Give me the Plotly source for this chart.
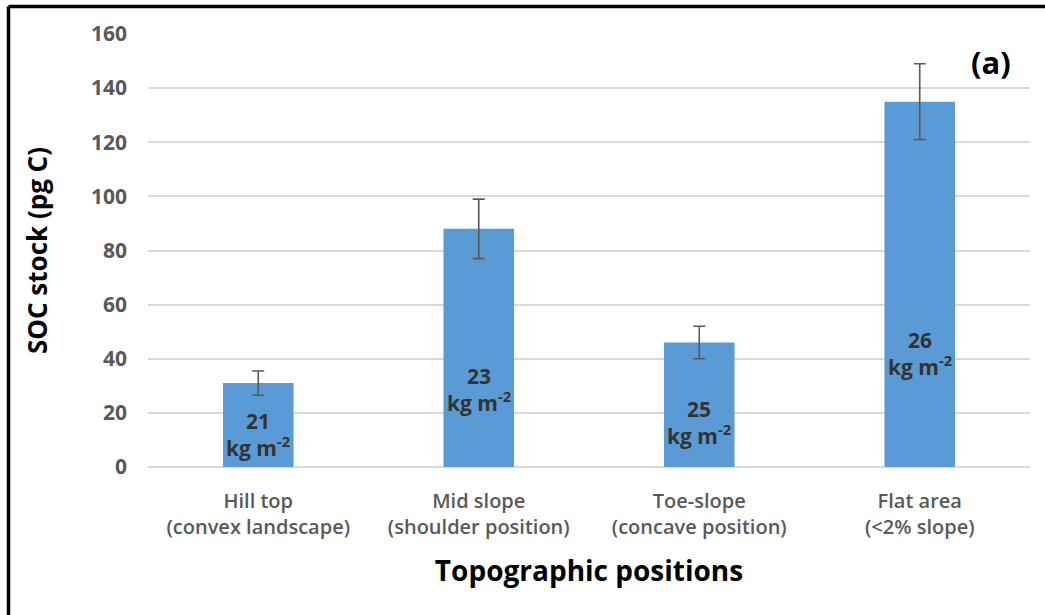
import plotly.graph_objects as go

categories = ["Hill top<br>(convex landscape)", "Mid slope<br>(shoulder position)",
              "Toe-slope<br>(concave position)", "Flat area<br>(<2% slope)"]
soc_stock = [31, 88, 46, 135]
soc_err = [4.5, 11, 6, 14]
density_labels = ["21", "23", "25", "26"]
label_y = [12, 28.5, 16.5, 42]

W, H = 1045, 615
L, R, T, B = 148, 15, 34, 148
pw, ph = W - L - R, H - T - B
FONT = "Open Sans"


def px_x(p):
    return (p - L) / pw


def px_y(p):
    return (H - B - p) / ph


fig = go.Figure(go.Bar(
    x=categories, y=soc_stock,
    marker=dict(color="#5b9bd5", line=dict(width=0)),
    error_y=dict(type="data", array=soc_err, color="#595959", thickness=1.6, width=6),
    hoverinfo="skip",
))

for cat, lab, ly in zip(categories, density_labels, label_y):
    fig.add_annotation(x=cat, y=ly, text=f"<b>{lab}<br>kg m<sup>-2</sup></b>", showarrow=False,
                       font=dict(family=FONT, size=21, color="#333333"))

fig.add_annotation(xref="paper", yref="paper", x=px_x(991), y=px_y(62), text="<b>(a)</b>",
                   xanchor="center", yanchor="middle",
                   showarrow=False, font=dict(family=FONT, size=31, color="black"))

# black frame around the figure
fig.add_shape(type="line", xref="paper", yref="paper", x0=px_x(8.5), x1=px_x(1050),
              y0=px_y(6.5), y1=px_y(6.5), line=dict(color="black", width=3.5))
fig.add_shape(type="line", xref="paper", yref="paper", x0=px_x(8.5), x1=px_x(8.5),
              y0=px_y(6.5), y1=px_y(620), line=dict(color="black", width=3.5))

fig.update_layout(
    width=W, height=H,
    margin=dict(l=L, r=R, t=T, b=B),
    paper_bgcolor="white", plot_bgcolor="white",
    bargap=0.68,
    showlegend=False,
    font=dict(family=FONT, color="#595959"),
    xaxis=dict(
        tickfont=dict(family=FONT, size=20, color="#595959", weight=600),
        title=dict(text="<b>Topographic positions</b>", font=dict(size=28, color="black"), standoff=22),
        showline=False, ticks="", automargin=False, ticklabelstandoff=20,
    ),
    yaxis=dict(
        range=[0, 160], dtick=20,
        tickfont=dict(family=FONT, size=21, color="#595959", weight="bold"),
        title=dict(text="<b>SOC stock (pg C)</b>", font=dict(size=26, color="black"), standoff=35),
        showgrid=True, gridcolor="#d9d9d9", gridwidth=1.5,
        zeroline=True, zerolinecolor="#d9d9d9", zerolinewidth=1.5,
        ticks="", ticklabelstandoff=20, automargin=False,
    ),
)

fig.write_html("out.html", config={"displayModeBar": False},
               post_script="document.body.style.margin='0';")
